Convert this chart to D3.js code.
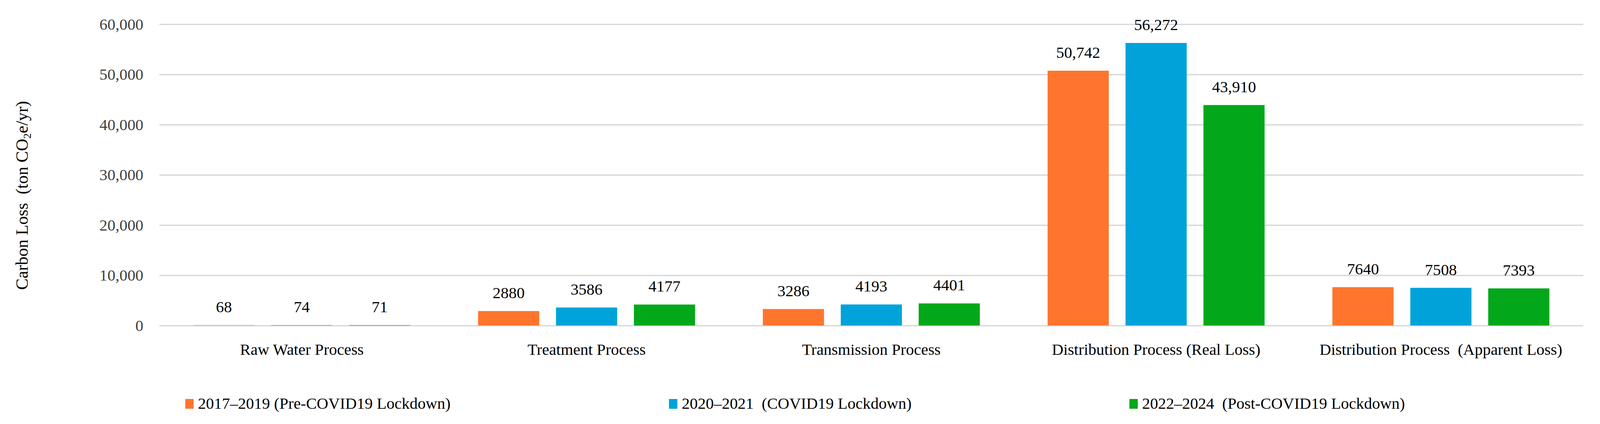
<!DOCTYPE html>
<html>
<head>
<meta charset="utf-8">
<script src="https://cdn.jsdelivr.net/npm/d3@7"></script>
<style>
  html, body { margin: 0; padding: 0; background: #fff; overflow: hidden; }
  #chart svg { display: block; }
  text { white-space: pre; font-family: "Palatino Linotype", "Book Antiqua", Palatino, "Liberation Serif", serif; }
</style>
</head>
<body>
<div id="chart"></div>
<script>
const categories = [
    "Raw Water Process",
    "Treatment Process",
    "Transmission Process",
    "Distribution Process (Real Loss)",
    "Distribution Process  (Apparent Loss)"
];
const seriesNames = [
    "2017–2019 (Pre-COVID19 Lockdown)",
    "2020–2021  (COVID19 Lockdown)",
    "2022–2024  (Post-COVID19 Lockdown)"
];
const values2017 = [68, 2880, 3286, 50742, 7640];
const values2020 = [74, 3586, 4193, 56272, 7508];
const values2022 = [71, 4177, 4401, 43910, 7393];
const yTicks = [0, 10000, 20000, 30000, 40000, 50000, 60000];

const colors = ["#FF752D", "#00A3D9", "#02A81A"];
const seriesValues = [values2017, values2020, values2022];

// layout is designed for 4396x1085 and stretched to whatever the window really is
const baseW = 4396, baseH = 1085;
const W = window.innerWidth || baseW;
const H = window.innerHeight || baseH;
const sx = W / baseW, sy = H / baseH;
const X = v => v * sx;
const Y = v => v * sy;

const plot = {left: X(438), right: X(4350), top: Y(62), bottom: Y(833)};
const legendX = [509, 1838, 3103];
const fontSize = 44 * sx;

const svg = d3.select("#chart").append("svg")
    .attr("width", W)
    .attr("height", H);

const x0 = d3.scaleBand()
    .domain(categories)
    .range([plot.left, plot.right])
    .padding(0);

const x1 = d3.scaleBand()
    .domain(seriesNames)
    .range([0, x0.bandwidth()])
    .paddingInner(0.215)
    .paddingOuter(0.435);

const y = d3.scaleLinear()
    .domain([0, 60000])
    .range([plot.bottom, plot.top]);

// gridlines + tick labels
const yAxis = svg.append("g")
    .attr("transform", `translate(${plot.left},0)`)
    .call(d3.axisLeft(y)
        .tickValues(yTicks)
        .tickFormat(d3.format(","))
        .tickSize(-(plot.right - plot.left))
        .tickPadding(X(44)));
yAxis.select(".domain").remove();
yAxis.selectAll(".tick line")
    .attr("stroke", "#d9d9d9")
    .attr("stroke-width", 3.5 * sy);
yAxis.selectAll(".tick text")
    .attr("font-size", fontSize)
    .attr("fill", "#404040")
    .style("font-family", null);

// bars
const rows = [];
categories.forEach((c, i) => {
    seriesNames.forEach((s, j) => {
        rows.push({cat: c, series: s, value: seriesValues[j][i], color: colors[j]});
    });
});

svg.append("g").selectAll("rect")
    .data(rows)
    .join("rect")
    .attr("x", d => x0(d.cat) + x1(d.series))
    .attr("y", d => y(d.value))
    .attr("width", x1.bandwidth())
    .attr("height", d => y(0) - y(d.value))
    .attr("fill", d => d.color);

// value labels
svg.append("g").selectAll("text")
    .data(rows)
    .join("text")
    .attr("x", d => x0(d.cat) + x1(d.series) + x1.bandwidth() / 2)
    .attr("y", d => y(d.value) - Y(33))
    .attr("text-anchor", "middle")
    .attr("font-size", fontSize)
    .attr("fill", "#000")
    .text(d => d.value >= 10000 ? d3.format(",")(d.value) : String(d.value));

// category labels
svg.append("g").selectAll("text")
    .data(categories)
    .join("text")
    .attr("x", d => x0(d) + x0.bandwidth() / 2)
    .attr("y", Y(908))
    .attr("text-anchor", "middle")
    .attr("font-size", fontSize)
    .attr("fill", "#000")
    .text(d => d);

// y axis title
const yTitle = svg.append("text")
    .attr("transform", `translate(${X(76)},${Y(500)}) rotate(-90)`)
    .attr("text-anchor", "middle")
    .attr("font-size", 47 * sx)
    .attr("fill", "#000");
yTitle.append("tspan").text("Carbon Loss  (ton CO");
yTitle.append("tspan").attr("font-size", 30 * sx).attr("dy", 9 * sx).text("2");
yTitle.append("tspan").attr("dy", -9 * sx).text("e/yr)");

// legend
const legend = svg.append("g").selectAll("g")
    .data(seriesNames)
    .join("g")
    .attr("transform", (d, i) => `translate(${X(legendX[i])},${Y(1021)})`);
legend.append("rect")
    .attr("width", X(23))
    .attr("height", Y(25))
    .attr("fill", (d, i) => colors[i]);
legend.append("text")
    .attr("x", X(35))
    .attr("y", Y(25))
    .attr("font-size", fontSize)
    .attr("fill", "#000")
    .text(d => d);
</script>
</body>
</html>
